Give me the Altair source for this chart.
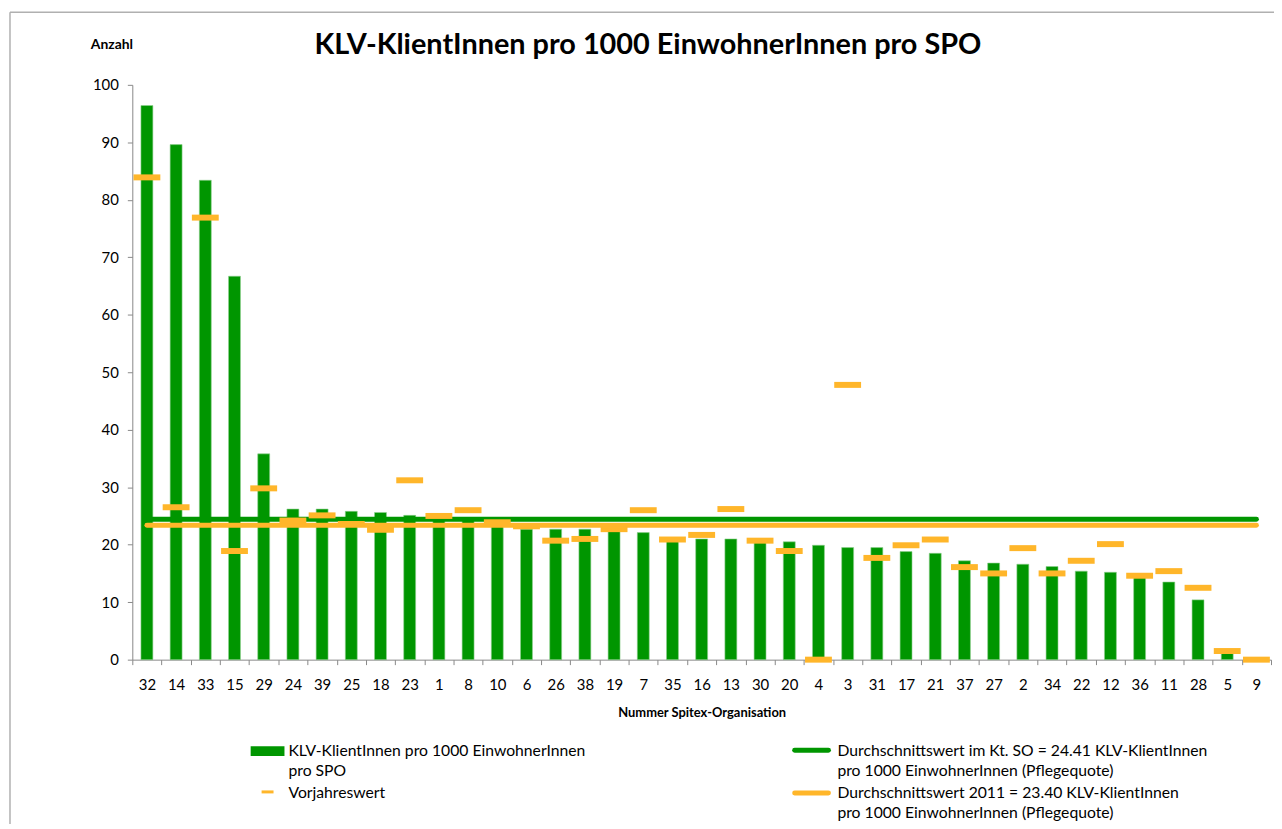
import altair as alt
import pandas as pd

categories = ["32", "14", "33", "15", "29", "24", "39", "25", "18", "23", "1", "8", "10",
              "6", "26", "38", "19", "7", "35", "16", "13", "30", "20", "4", "3", "31",
              "17", "21", "37", "27", "2", "34", "22", "12", "36", "11", "28", "5", "9"]
current_values = [96.4, 89.6, 83.4, 66.7, 35.8, 26.2, 26.2, 25.8, 25.6, 25.1, 24.6, 24.2, 23.9,
                  22.7, 22.7, 22.7, 22.5, 22.1, 20.8, 21.0, 21.0, 20.5, 20.5, 19.9, 19.5, 19.5,
                  18.8, 18.5, 17.2, 16.8, 16.6, 16.2, 15.4, 15.2, 14.6, 13.5, 10.4, 1.2, 0.0]
previous_values = [83.9, 26.5, 76.9, 18.9, 29.8, 24.2, 25.1, 23.6, 22.6, 31.2, 25.0, 26.0, 23.9,
                   23.2, 20.7, 21.0, 22.7, 26.0, 20.9, 21.7, 26.2, 20.7, 18.9, 0.0, 47.8, 17.7,
                   19.9, 20.9, 16.1, 15.0, 19.4, 15.0, 17.2, 20.1, 14.6, 15.4, 12.5, 1.5, 0.0]
avg_current = 24.41
avg_previous = 23.40

title_text = "KLV-KlientInnen pro 1000 EinwohnerInnen pro SPO"
legend_bar = "KLV-KlientInnen pro 1000 EinwohnerInnen\npro SPO"
legend_prev = "Vorjahreswert"
legend_avg = "Durchschnittswert im Kt. SO = 24.41 KLV-KlientInnen\npro 1000 EinwohnerInnen (Pflegequote)"
legend_avg_prev = "Durchschnittswert 2011 = 23.40 KLV-KlientInnen\npro 1000 EinwohnerInnen (Pflegequote)"

GREEN = "#009600"
ORANGE = "#FFB62A"
FONT = "Lato"

df = pd.DataFrame({
    "cat": categories,
    "val": current_values,
    "prev": previous_values,
    "avg": [avg_current] * len(categories),
    "avg_prev": [avg_previous] * len(categories),
})
one = pd.DataFrame({"k": [0]})

W, H = 1145, 578

x_enc = alt.X("cat:N", sort=categories, scale=alt.Scale(paddingInner=0, paddingOuter=0),
              axis=alt.Axis(title="Nummer Spitex-Organisation", labelAngle=0, tickBand="extent",
                            labelFontSize=15, labelColor="black", labelPadding=13,
                            tickSize=5, tickColor="#888888", domainColor="#888888",
                            titleFontSize=13, titleFontWeight="bold", titleColor="black",
                            titlePadding=14))
y_enc = alt.Y("val:Q", scale=alt.Scale(domain=[0, 100], nice=False),
              axis=alt.Axis(title="Anzahl", values=list(range(0, 101, 10)), grid=False,
                            labelFontSize=15, labelColor="black", labelPadding=9,
                            tickSize=5, tickColor="#888888", domainColor="#888888",
                            titleAngle=0, titleX=-21, titleY=-41, titleAlign="center",
                            titleBaseline="middle", titleFontSize=14, titleFontWeight="bold",
                            titleColor="black"))

bars = alt.Chart(df).mark_bar(color=GREEN, size=12, stroke="#8fd08f", strokeWidth=0.6).encode(
    x=x_enc, y=y_enc)

line_cur = alt.Chart(df).mark_line(color=GREEN, strokeWidth=5, strokeCap="round").encode(
    x=alt.X("cat:N", sort=categories), y=alt.Y("avg:Q"))
line_prev = alt.Chart(df).mark_line(color=ORANGE, strokeWidth=5, strokeCap="round").encode(
    x=alt.X("cat:N", sort=categories), y=alt.Y("avg_prev:Q"))

ticks = alt.Chart(df).mark_tick(color=ORANGE, size=27, thickness=6, opacity=1).encode(
    x=alt.X("cat:N", sort=categories), y=alt.Y("prev:Q"))

# frame
frame_top = alt.Chart(one).mark_rule(color="#b0b0b0", strokeWidth=1.5).encode(
    x=alt.value(-123), x2=alt.value(1160), y=alt.value(-73))
frame_left = alt.Chart(one).mark_rule(color="#b0b0b0", strokeWidth=1.5).encode(
    x=alt.value(-123), y=alt.value(-73), y2=alt.value(760))

# legend
leg_rect = alt.Chart(one).mark_rect(color=GREEN).encode(
    x=alt.value(119), x2=alt.value(153), y=alt.value(665), y2=alt.value(675))
leg_tick = alt.Chart(one).mark_rule(color=ORANGE, strokeWidth=3).encode(
    x=alt.value(130), x2=alt.value(142), y=alt.value(711))
leg_line1 = alt.Chart(one).mark_rule(color=GREEN, strokeWidth=5, strokeCap="round").encode(
    x=alt.value(666), x2=alt.value(700), y=alt.value(669))
leg_line2 = alt.Chart(one).mark_rule(color=ORANGE, strokeWidth=5, strokeCap="round").encode(
    x=alt.value(666), x2=alt.value(700), y=alt.value(712))

def leg_text(txt, x, y):
    return alt.Chart(one).mark_text(align="left", baseline="middle", fontSize=15.8, font=FONT,
                                    color="black", lineBreak="\n", lineHeight=20).encode(
        x=alt.value(x), y=alt.value(y), text=alt.value(txt))

chart = alt.layer(
    bars, line_cur, line_prev, ticks,
    frame_top, frame_left,
    leg_rect, leg_tick, leg_line1, leg_line2,
    leg_text(legend_bar, 157, 670),
    leg_text(legend_prev, 157, 712),
    leg_text(legend_avg, 709, 670),
    leg_text(legend_avg_prev, 709, 712),
).properties(
    width=W, height=H,
    title=alt.TitleParams(title_text, fontSize=29, font=FONT, fontWeight="bold", color="black",
                          anchor="middle", dx=-54, offset=-49),
    autosize=alt.AutoSizeParams(type="none"),
    padding={"left": 125, "top": 75, "right": 3, "bottom": 163},
).configure(font=FONT).configure_view(stroke=None)

chart.save("out.html", embed_options={"renderer": "svg", "actions": False})
